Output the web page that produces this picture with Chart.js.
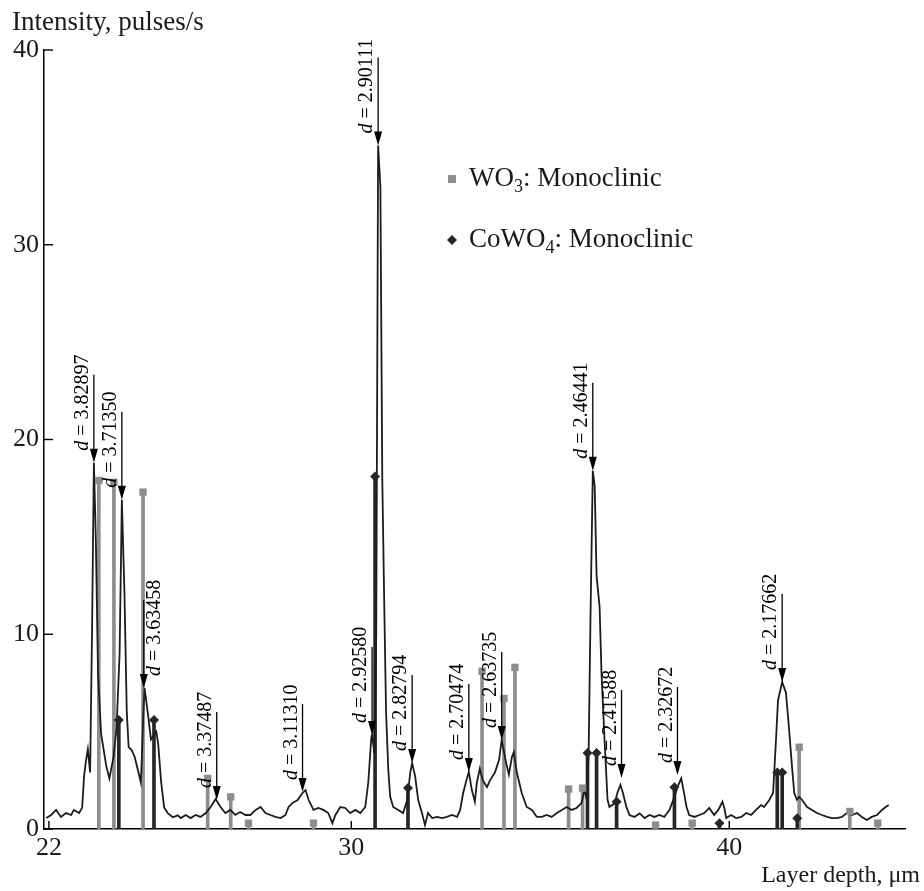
<!DOCTYPE html>
<html>
<head>
<meta charset="utf-8">
<script src="https://cdn.jsdelivr.net/npm/chart.js@4.4.0/dist/chart.umd.min.js"></script>
<style>
html,body{margin:0;padding:0;background:#fff;}
#wrap{width:924px;height:891px;}
</style>
</head>
<body>
<div id="wrap"><canvas id="c" width="924" height="891"></canvas></div>
<script>
// ---- measured spectrum (layer depth, µm  vs  intensity, pulses/s)
const depth = [21.93,22.06,22.19,22.32,22.45,22.59,22.66,22.80,22.88,22.93,22.98,23.03,23.09,23.14,23.19,23.24,23.30,23.38,23.52,23.60,23.71,23.79,23.87,23.93,24.00,24.06,24.11,24.19,24.27,24.37,24.43,24.45,24.50,24.53,24.58,24.63,24.70,24.84,24.89,24.97,25.05,25.15,25.28,25.41,25.49,25.62,25.75,25.88,26.01,26.15,26.28,26.41,26.54,26.67,26.80,26.93,27.06,27.20,27.33,27.47,27.60,27.73,27.86,27.99,28.13,28.26,28.34,28.44,28.58,28.71,28.79,28.87,29.00,29.13,29.26,29.39,29.50,29.58,29.71,29.84,29.97,30.11,30.24,30.37,30.45,30.53,30.55,30.61,30.66,30.71,30.77,30.82,30.87,30.92,30.98,31.03,31.11,31.24,31.37,31.48,31.56,31.61,31.69,31.77,31.87,31.95,32.03,32.14,32.27,32.40,32.53,32.66,32.80,32.88,32.96,33.06,33.11,33.19,33.27,33.32,33.40,33.48,33.59,33.67,33.80,33.91,33.98,34.09,34.17,34.25,34.30,34.38,34.51,34.64,34.78,34.91,35.04,35.17,35.30,35.44,35.57,35.70,35.83,35.96,36.09,36.17,36.23,36.28,36.33,36.39,36.44,36.49,36.57,36.62,36.70,36.78,36.83,36.97,37.04,37.12,37.18,37.28,37.36,37.49,37.63,37.76,37.89,38.02,38.15,38.28,38.42,38.55,38.63,38.73,38.79,38.87,38.94,39.08,39.21,39.34,39.47,39.60,39.71,39.82,39.87,39.92,40.05,40.18,40.32,40.45,40.58,40.71,40.84,40.92,41.06,41.16,41.24,41.29,41.40,41.50,41.58,41.66,41.72,41.79,41.85,41.93,42.06,42.19,42.32,42.45,42.59,42.72,42.85,42.98,43.11,43.25,43.38,43.51,43.64,43.77,43.91,44.04,44.14,44.22];
const intensity = [0.56,0.72,0.98,0.62,0.82,0.72,0.98,0.82,1.10,2.70,3.50,4.10,2.90,10.0,18.8,15.0,8.0,4.9,3.2,2.6,3.7,5.2,9.0,16.9,12.0,6.0,4.2,4.05,3.7,2.9,2.4,3.2,6.0,7.24,6.5,5.75,4.6,5.0,4.4,2.4,1.1,0.8,0.6,0.7,0.56,0.72,0.56,0.72,0.62,0.82,1.13,1.54,1.13,0.82,0.98,0.72,0.87,0.72,0.72,0.98,1.13,0.82,0.72,0.62,0.56,0.72,1.13,1.33,1.49,1.85,2.0,1.5,0.98,1.08,0.98,0.82,0.3,0.72,1.13,1.08,0.82,0.98,0.82,1.13,2.4,4.7,4.83,3.9,10,35.1,33,18,11.8,6,3,1.65,1.13,0.98,0.82,1.49,2.9,3.39,2.7,1.49,0.82,0.2,0.82,0.56,0.62,0.56,0.62,0.72,0.62,0.98,1.85,2.6,2.93,2.0,1.4,2.35,3.1,2.5,2.15,2.5,2.9,3.55,4.57,3.45,2.8,3.7,3.95,2.9,1.85,1.13,0.98,0.62,0.62,0.72,0.62,0.82,0.98,1.13,0.98,1.08,1.33,2.0,1.5,4,11,18.4,17.6,13,11.4,8.0,4.6,1.5,1.13,1.33,1.85,2.26,1.9,1.13,0.72,0.62,0.8,0.56,0.72,0.62,0.72,0.62,0.98,1.65,2.15,2.6,2.0,1.13,0.72,0.62,0.72,0.82,1.08,0.72,0.98,1.4,1.08,0.56,0.72,0.56,0.62,0.82,0.72,0.98,1.23,1.13,1.49,1.85,4.7,6.6,7.55,7.0,5.2,3.2,1.85,1.5,1.65,1.49,1.13,0.98,0.82,0.72,0.62,0.56,0.56,0.62,0.82,0.72,0.82,0.62,0.46,0.62,0.72,0.98,1.13,1.23];

// ---- reference lines
const wo3Depth = [23.32,23.72,24.49,26.20,26.81,27.28,29.00,33.46,34.04,34.33,35.75,36.12,38.05,39.02,41.85,43.19,43.93];
const wo3Intensity = [17.9,17.8,17.3,2.6,1.65,0.3,0.3,8.1,6.7,8.3,2.05,2.1,0.2,0.3,4.2,0.9,0.3];
const cowo4Depth = [23.85,24.78,30.63,31.50,36.25,36.49,37.02,38.55,39.74,41.27,41.40,41.80];
const cowo4Intensity = [5.6,5.6,18.1,2.1,3.9,3.9,1.4,2.15,0.3,2.9,2.9,0.55];

// ---- annotated peaks
const peakDepth = [23.19,23.93,24.51,26.44,28.71,30.55,30.71,31.61,33.11,33.98,36.39,37.15,38.63,41.40];
const peakIntensity = [18.8,16.9,7.24,1.49,1.9,4.83,35.1,3.39,2.93,4.57,18.4,2.62,2.77,7.55];
const peakLabels = ["3.82897","3.71350","3.63458","3.37487","3.11310","2.92580","2.90111","2.82794","2.70474","2.63735","2.46441","2.41588","2.32672","2.17662"];

const xTicks = [22,30,40];
const yTicks = [0,10,20,30,40];
const xTitle = "Layer depth, μm";
const yTitle = "Intensity, pulses/s";
const seriesNames = [["WO","3",": Monoclinic"],["CoWO","4",": Monoclinic"]];

const SERIF = '"Liberation Serif","Times New Roman",serif';
const WO3_COLOR = '#8d8d8d';
const COWO4_COLOR = '#262626';

const decor = {
  id: 'decor',
  afterDatasetsDraw(chart) {
    const ctx = chart.ctx, xs = chart.scales.x, ys = chart.scales.y;
    ctx.save();
    ctx.strokeStyle = '#000'; ctx.fillStyle = '#000'; ctx.lineWidth = 1.3;
    peakDepth.forEach((d, i) => {
      const px = xs.getPixelForValue(d), py = ys.getPixelForValue(peakIntensity[i]);
      ctx.beginPath(); ctx.moveTo(px, py - 88); ctx.lineTo(px, py - 10); ctx.stroke();
      ctx.beginPath(); ctx.moveTo(px - 4, py - 14); ctx.lineTo(px + 4, py - 14); ctx.lineTo(px, py); ctx.closePath(); ctx.fill();
      const side = peakLabels[i] === "3.63458" ? 1 : -1;
      ctx.save();
      ctx.translate(px + side * 11, py - 12);
      ctx.rotate(-Math.PI / 2);
      ctx.textBaseline = 'middle'; ctx.textAlign = 'left';
      ctx.font = 'italic 20px ' + SERIF;
      ctx.fillText('d', 0, 0);
      const w = ctx.measureText('d').width;
      ctx.font = '20px ' + SERIF;
      ctx.fillText(' = ' + peakLabels[i], w, 0);
      ctx.restore();
    });
    ctx.restore();
  },
  afterDraw(chart) {
    const ctx = chart.ctx, xs = chart.scales.x, ys = chart.scales.y, a = chart.chartArea;
    ctx.save();
    ctx.strokeStyle = '#000'; ctx.lineWidth = 1.4;
    yTicks.forEach(v => { const y = ys.getPixelForValue(v); ctx.beginPath(); ctx.moveTo(a.left, y); ctx.lineTo(a.left + 9, y); ctx.stroke(); });
    xTicks.forEach(v => { const x = xs.getPixelForValue(v); ctx.beginPath(); ctx.moveTo(x, a.bottom); ctx.lineTo(x, a.bottom - 8); ctx.stroke(); });
    ctx.fillStyle = '#1a1a1a';
    ctx.textBaseline = 'alphabetic';
    ctx.textAlign = 'left';
    ctx.font = '27px ' + SERIF;
    ctx.fillText(yTitle, 12, 30);
    ctx.textAlign = 'right';
    ctx.font = '24px ' + SERIF;
    ctx.fillText(xTitle, 920, 882);
    // legend
    const lx = 452, rows = [179, 240];
    ctx.fillStyle = WO3_COLOR; ctx.fillRect(lx - 4, rows[0] - 4, 8, 8);
    ctx.fillStyle = COWO4_COLOR; ctx.beginPath();
    ctx.moveTo(lx, rows[1] - 5); ctx.lineTo(lx + 5, rows[1]); ctx.lineTo(lx, rows[1] + 5); ctx.lineTo(lx - 5, rows[1]); ctx.closePath(); ctx.fill();
    ctx.fillStyle = '#1a1a1a'; ctx.textAlign = 'left';
    seriesNames.forEach((p, i) => {
      let x = 469; const base = rows[i] + 7;
      ctx.font = '27px ' + SERIF; ctx.fillText(p[0], x, base); x += ctx.measureText(p[0]).width;
      ctx.font = '18px ' + SERIF; ctx.fillText(p[1], x, base + 6); x += ctx.measureText(p[1]).width;
      ctx.font = '27px ' + SERIF; ctx.fillText(p[2], x, base);
    });
    ctx.restore();
  }
};

const toXY = (xa, ya) => xa.map((x, i) => ({x: x, y: ya[i]}));

new Chart(document.getElementById('c'), {
  type: 'line',
  data: {
    datasets: [
      { type: 'line', data: toXY(depth, intensity), borderColor: '#1c1c1c', borderWidth: 1.8, pointRadius: 0, tension: 0, fill: false, order: 1 },
      { type: 'bar', data: toXY(wo3Depth, wo3Intensity), backgroundColor: WO3_COLOR, barThickness: 3, grouped: false, order: 3 },
      { type: 'bar', data: toXY(cowo4Depth, cowo4Intensity), backgroundColor: COWO4_COLOR, barThickness: 3, grouped: false, order: 2 },
      { type: 'scatter', data: toXY(wo3Depth, wo3Intensity), pointStyle: 'rect', pointRadius: 5.2, backgroundColor: WO3_COLOR, borderWidth: 0, order: 0 },
      { type: 'scatter', data: toXY(cowo4Depth, cowo4Intensity), pointStyle: 'rectRot', pointRadius: 5, backgroundColor: COWO4_COLOR, borderWidth: 0, order: 0 }
    ]
  },
  options: {
    responsive: false,
    animation: false,
    devicePixelRatio: 1,
    layout: { padding: { left: 0, top: 50, right: 19, bottom: 0 } },
    plugins: { legend: { display: false }, tooltip: { enabled: false } },
    scales: {
      x: {
        type: 'linear', min: 21.87, max: 44.65, offset: false,
        grid: { display: false, drawTicks: false, offset: false },
        border: { display: true, color: '#000', width: 1.5 },
        afterBuildTicks: s => { s.ticks = xTicks.map(v => ({ value: v })); },
        afterFit: s => { s.height = 62; },
        ticks: { font: { family: SERIF, size: 26 }, color: '#1a1a1a', padding: 4, maxRotation: 0, autoSkip: false }
      },
      y: {
        type: 'linear', min: 0, max: 40,
        grid: { display: false, drawTicks: false },
        border: { display: true, color: '#000', width: 1.5 },
        afterBuildTicks: s => { s.ticks = yTicks.map(v => ({ value: v })); },
        afterFit: s => { s.width = 44; },
        ticks: { font: { family: SERIF, size: 26 }, color: '#1a1a1a', padding: 5 }
      }
    }
  },
  plugins: [decor]
});
</script>
</body>
</html>
